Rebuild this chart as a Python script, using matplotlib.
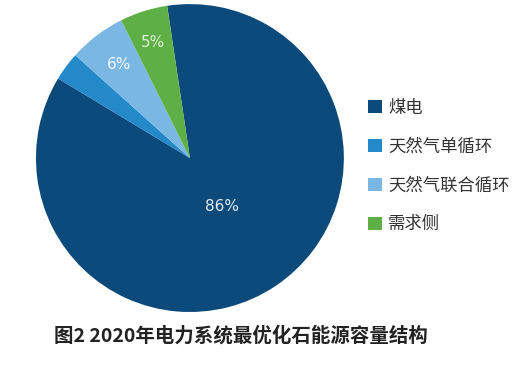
import matplotlib
matplotlib.use("Agg")
import matplotlib.pyplot as plt
from matplotlib.patches import Patch
import numpy as np

plt.rcParams['font.family'] = ['Noto Sans CJK SC', 'DejaVu Sans']

labels = ['煤电', '天然气单循环', '天然气联合循环', '需求侧']
shares = [86, 3, 6, 5]
pct_text = ['86%', '', '6%', '5%']
colors = ['#0c4a7b', '#2389c9', '#7ab8e3', '#5eb046']
pct_colors = ['#e4ebf2', '#ffffff', '#f2f7fc', '#dff0d4']
title = '图2 2020年电力系统最优化石能源容量结构'

fig = plt.figure(figsize=(5.21, 3.71), dpi=100)
ax = fig.add_axes([0.069, 0.159, 0.591, 0.830])

start = 98.5
# clockwise from near the top: navy first, green last
ax.pie(shares, colors=colors, startangle=start, counterclock=False,
       radius=1, wedgeprops=dict(linewidth=0))
ax.set_xlim(-1, 1)
ax.set_ylim(-1, 1)
ax.set_aspect('equal')

# percentage labels
acc = start
label_r = [0.38, 0, 0.76, 0.79]
for i, s in enumerate(shares):
    mid = acc - 360 * s / 100 / 2
    acc -= 360 * s / 100
    if pct_text[i]:
        r = label_r[i]
        ax.text(r * np.cos(np.radians(mid)), r * np.sin(np.radians(mid)),
                pct_text[i], ha='center', va='center', fontsize=11,
                color=pct_colors[i], family=['DejaVu Sans'])

handles = [Patch(facecolor=c, edgecolor='none') for c in colors]
fig.legend(handles, labels, loc='upper left', bbox_to_anchor=(0.677, 0.776),
           frameon=False, fontsize=12.5, handlelength=0.8, handleheight=0.8,
           handletextpad=0.35, labelspacing=1.2, labelcolor='#333333')

fig.text(0.463, 0.095, title, ha='center', va='center', fontsize=14,
         fontweight='bold', color='#222222')

fig.savefig('out.png', dpi=100)
